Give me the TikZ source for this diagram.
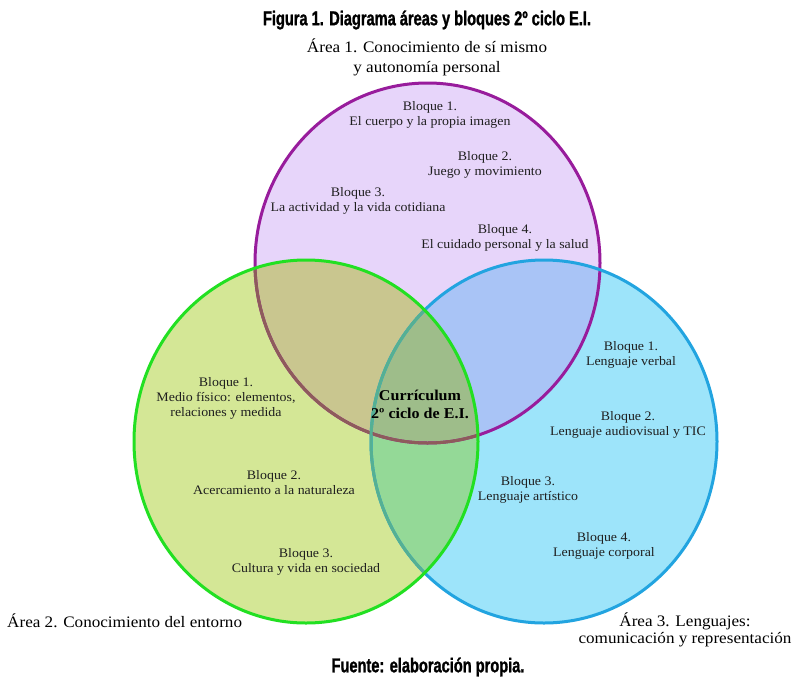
\documentclass[tikz,border=0pt]{standalone}
\usepackage{fontspec}
\setmainfont{Liberation Serif}[FakeStretch=1.07]
\newfontfamily\titlefont{Liberation Sans}[FakeStretch=0.73, BoldFeatures={FakeBold=1.2}]
\definecolor{ponly}{HTML}{E7D5FA}
\definecolor{gonly}{HTML}{D4E796}
\definecolor{bonly}{HTML}{9DE4FA}
\definecolor{pgcol}{HTML}{C9C68F}
\definecolor{pbcol}{HTML}{A9C4F6}
\definecolor{gbcol}{HTML}{94D997}
\definecolor{pgbcol}{HTML}{9EBD8A}
\definecolor{pstroke}{HTML}{981C9C}
\definecolor{gstroke}{HTML}{22E022}
\definecolor{bstroke}{HTML}{22A4E0}
\definecolor{brownstroke}{HTML}{8E5B5B}
\definecolor{tealstroke}{HTML}{55B093}
\tikzset{
  ring/.style={line width=3pt},
  blk/.style={font=\fontsize{13}{15}\selectfont, align=center, inner sep=0pt, text=black!88},
  area/.style={font=\fontsize{16}{17}\selectfont, align=center, inner sep=0pt},
  ctr/.style={font=\fontsize{15}{18}\selectfont\bfseries, align=center, inner sep=0pt},
  ttl/.style={font=\titlefont\fontsize{20}{22}\selectfont\bfseries, inner sep=0pt}
}
\begin{document}
\begin{tikzpicture}[x=1pt,y=-1pt]
\useasboundingbox[fill=white] (0,0) rectangle (795,678);
% region fills
\fill[ponly] (427.5,263) ellipse [x radius=172.5pt, y radius=180pt];
\fill[gonly] (306,441.5) ellipse [x radius=172pt, y radius=181.5pt];
\fill[bonly] (544,441.5) ellipse [x radius=173pt, y radius=181.5pt];
\begin{scope}
  \clip (427.5,263) ellipse [x radius=172.5pt, y radius=180pt];
  \fill[pgcol] (306,441.5) ellipse [x radius=172pt, y radius=181.5pt];
  \fill[pbcol] (544,441.5) ellipse [x radius=173pt, y radius=181.5pt];
\end{scope}
\begin{scope}
  \clip (306,441.5) ellipse [x radius=172pt, y radius=181.5pt];
  \fill[gbcol] (544,441.5) ellipse [x radius=173pt, y radius=181.5pt];
\end{scope}
\begin{scope}
  \clip (427.5,263) ellipse [x radius=172.5pt, y radius=180pt];
  \clip (306,441.5) ellipse [x radius=172pt, y radius=181.5pt];
  \fill[pgbcol] (544,441.5) ellipse [x radius=173pt, y radius=181.5pt];
\end{scope}
% outlines
\draw[ring, pstroke] (427.5,263) ellipse [x radius=172.5pt, y radius=180pt];
\draw[ring, bstroke] (544,441.5) ellipse [x radius=173pt, y radius=181.5pt];
\begin{scope}
  \clip (306,441.5) ellipse [x radius=172pt, y radius=181.5pt];
  \draw[ring, brownstroke] (427.5,263) ellipse [x radius=172.5pt, y radius=180pt];
  \draw[ring, tealstroke] (544,441.5) ellipse [x radius=173pt, y radius=181.5pt];
\end{scope}
\draw[ring, gstroke] (306,441.5) ellipse [x radius=172pt, y radius=181.5pt];
% titles
\node[ttl] (title) at (427,20) {Figura 1. Diagrama áreas y bloques 2º ciclo E.I.};
\node[ttl] (source) at (428,667) {Fuente: elaboración propia.};
% area labels
\node[area, font=\fontsize{16}{20}\selectfont] (area1) at (427,57) {Área 1. Conocimiento de sí mismo\\y autonomía personal};
\node[area, anchor=west] (area2) at (7,621) {Área 2. Conocimiento del entorno};
\node[area] (area3) at (685,630) {Área 3. Lenguajes:\\comunicación y representación};
% purple blocks
\node[blk] (p1) at (430,115) {Bloque 1.\\El cuerpo y la propia imagen};
\node[blk] (p2) at (485,165) {Bloque 2.\\Juego y movimiento};
\node[blk] (p3) at (358,201) {Bloque 3.\\La actividad y la vida cotidiana};
\node[blk] (p4) at (505,238) {Bloque 4.\\El cuidado personal y la salud};
% green blocks
\node[blk] (g1) at (226,398) {Bloque 1.\\Medio físico: elementos,\\relaciones y medida};
\node[blk] (g2) at (274,483) {Bloque 2.\\Acercamiento a la naturaleza};
\node[blk] (g3) at (306,562) {Bloque 3.\\Cultura y vida en sociedad};
% blue blocks
\node[blk] (b1) at (631,355) {Bloque 1.\\Lenguaje verbal};
\node[blk] (b2) at (628,425) {Bloque 2.\\Lenguaje audiovisual y TIC};
\node[blk] (b3) at (528,490) {Bloque 3.\\Lenguaje artístico};
\node[blk] (b4) at (604,546) {Bloque 4.\\Lenguaje corporal};
% centre
\node[ctr] (centre) at (420,404) {Currículum\\2º ciclo de E.I.};
\end{tikzpicture}
\end{document}
